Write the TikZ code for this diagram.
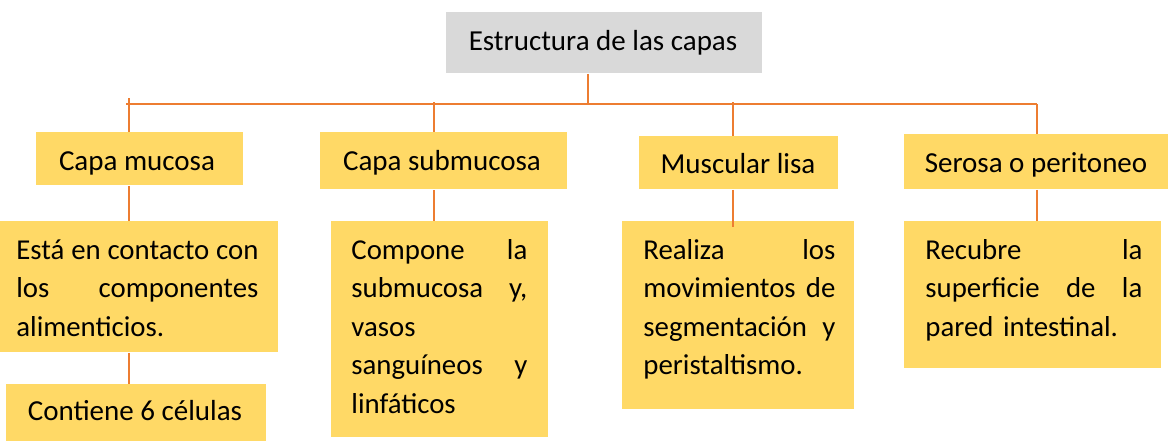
\documentclass[tikz,border=0pt]{standalone}
\usepackage{fontspec}
\setmainfont{Carlito}
\definecolor{gold}{HTML}{FFD966}
\definecolor{lgray}{HTML}{D9D9D9}
\definecolor{conn}{HTML}{ED7D31}
\newcommand\jl[1]{\leavevmode\hbox to\hsize{#1}}
\begin{document}
\begin{tikzpicture}[x=0.5pt,y=-0.5pt,
  box/.style={fill=gold, draw=none, inner sep=0pt, anchor=north west},
  gbox/.style={fill=lgray, draw=none, inner sep=0pt, anchor=north west},
  lab/.style={inner sep=0pt, anchor=base, font=\fontsize{14.5}{19.25}\selectfont},
  body/.style={inner sep=0pt, anchor=base west, font=\fontsize{14.4}{19.25}\selectfont},
  link/.style={draw=conn, line width=0.7pt}]
\useasboundingbox (0,0) rectangle (1172,441);

% boxes
\node[gbox, minimum width=158pt, minimum height=30.5pt] (top) at (446,12) {};
\node[box, minimum width=103.5pt, minimum height=26.5pt] (m1) at (36,132) {};
\node[box, minimum width=123.5pt, minimum height=28.5pt] (m2) at (320,132) {};
\node[box, minimum width=99.5pt, minimum height=26.5pt] (m3) at (639,136) {};
\node[box, minimum width=132pt, minimum height=27.5pt] (m4) at (904,134) {};
\node[box, minimum width=139pt, minimum height=65.5pt] (d1) at (0,221) {};
\node[box, minimum width=108.5pt, minimum height=108pt] (d2) at (331,221) {};
\node[box, minimum width=116pt, minimum height=94pt] (d3) at (622,221) {};
\node[box, minimum width=128.5pt, minimum height=73.5pt] (d4) at (904,221) {};
\node[box, minimum width=130pt, minimum height=28.5pt] (c1) at (6,384) {};

% labels
\node[lab] (topt) at (603,50) {Estructura de las capas};
\node[lab] (m1t) at (137,170) {Capa mucosa};
\node[lab] (m2t) at (442,170) {Capa submucosa};
\node[lab] (m3t) at (738,173) {Muscular lisa};
\node[lab] (m4t) at (1036,172) {Serosa o peritoneo};
\node[lab] (c1t) at (135,420) {Contiene 6 células};

\node[body, text width=121pt] (d1t) at (16,259)
  {\jl{Está\hfill en\hfill contacto\hfill con}\\\jl{los\hfill componentes}\\alimenticios.};
\node[body, text width=88pt] (d2t) at (351,259)
  {\jl{Compone\hfill la}\\\jl{submucosa\hfill y,}\\vasos\\\jl{sanguíneos\hfill y}\\linfáticos};
\node[body, text width=96pt] (d3t) at (643,259)
  {\jl{Realiza\hfill los}\\\jl{movimientos\hfill de}\\\jl{segmentación\hfill y}\\peristaltismo.};
\node[body, text width=108.5pt] (d4t) at (925,259)
  {\jl{Recubre\hfill la}\\\jl{superficie\hfill de\hfill la}\\pared intestinal.};

% connector coordinates
\coordinate (hl) at (126,104);
\coordinate (hr) at (1037,104);
\coordinate (t0) at (588,104);
\coordinate (b1) at (129,98);
\coordinate (b2) at (434,102);
\coordinate (b3) at (733,102);
\coordinate (b4) at (1037,104);

% connectors
\draw[link] (top.south -| t0) -- (t0);
\draw[link] (hl) -- (hr);
\draw[link] (b1) -- (b1 |- m1.north);
\draw[link] (b2) -- (b2 |- m2.north);
\draw[link] (b3) -- (b3 |- m3.north);
\draw[link] (b4) -- (b4 |- m4.north);
\draw[link] (m1.south -| b1) -- (b1 |- d1.north);
\draw[link] (m2.south -| b2) -- (b2 |- d2.north);
\draw[link] (m3.south -| b3) -- ([yshift=-3pt]b3 |- d3.north);
\draw[link] (m4.south -| b4) -- (b4 |- d4.north);
\draw[link] (d1.south -| b1) -- (b1 |- c1.north);
\end{tikzpicture}
\end{document}
